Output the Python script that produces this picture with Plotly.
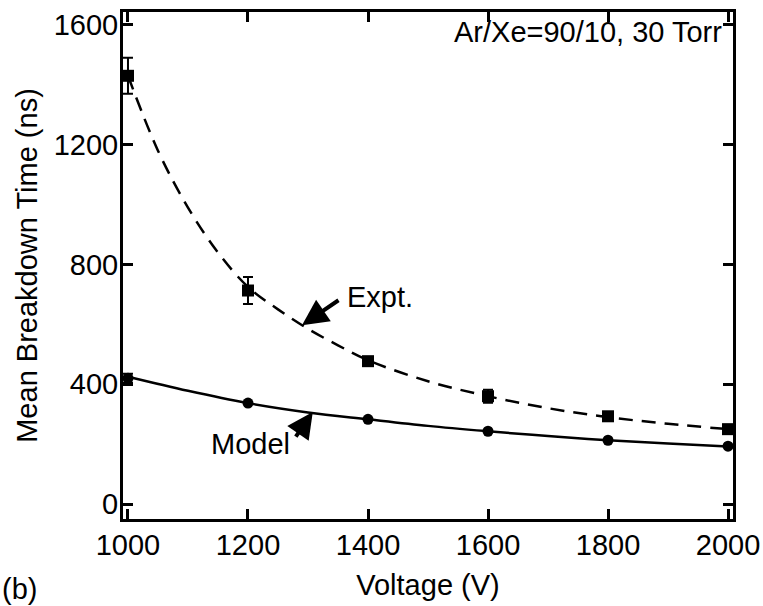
import plotly.graph_objects as go

# Measured points
voltage = [1000, 1200, 1400, 1600, 1800, 2000]
expt_time = [1430, 713, 477, 360, 293, 250]
expt_err = [60, 45, 12, 22, 8, 10]
model_time = [420, 337, 283, 243, 213, 193]
model_err = [15, 0, 0, 0, 0, 0]

# Fit curves
fit_v = [1000, 1050, 1100, 1150, 1200, 1250, 1300, 1350, 1400, 1500, 1600, 1700, 1800, 1900, 2000]
expt_fit = [1430, 1180, 990, 840, 725, 650, 585, 530, 480, 410, 360, 320, 290, 268, 250]
model_fit_v = [1000, 1100, 1200, 1300, 1400, 1500, 1600, 1700, 1800, 1900, 2000]
model_fit = [425, 378, 337, 306, 283, 261, 243, 227, 213, 202, 192]

x_ticks = [1000, 1200, 1400, 1600, 1800, 2000]
y_ticks = [0, 400, 800, 1200, 1600]

FONT = "Liberation Sans, Arial, sans-serif"
FS = 29

fig = go.Figure()
fig.add_trace(go.Scatter(x=fit_v, y=expt_fit, mode="lines",
                         line=dict(color="black", width=2.5, dash="14px,9px", shape="spline"),
                         showlegend=False))
fig.add_trace(go.Scatter(x=model_fit_v, y=model_fit, mode="lines",
                         line=dict(color="black", width=2.5, shape="spline"),
                         showlegend=False))
fig.add_trace(go.Scatter(x=voltage, y=expt_time, mode="markers",
                         marker=dict(symbol="square", size=12, color="black"),
                         error_y=dict(type="data", array=expt_err, color="black", thickness=2, width=5),
                         showlegend=False))
fig.add_trace(go.Scatter(x=voltage, y=model_time, mode="markers",
                         marker=dict(symbol="circle", size=11, color="black"),
                         error_y=dict(type="data", array=model_err, color="black", thickness=2, width=5),
                         showlegend=False))

axis_common = dict(showline=True, linecolor="black", linewidth=3, mirror="allticks",
                   ticks="inside", ticklen=10, tickwidth=3, tickcolor="black",
                   showgrid=False, zeroline=False, automargin=False,
                   tickfont=dict(family=FONT, size=FS, color="black"))

fig.update_xaxes(range=[991.7, 2008.3], tickvals=x_ticks, ticklabelstandoff=-2,
                 title=dict(text="Voltage (V)", font=dict(family=FONT, size=FS, color="black"), standoff=15),
                 **axis_common)
fig.update_yaxes(range=[-50, 1643], tickvals=y_ticks, ticklabelstandoff=-4,
                 title=dict(text="Mean Breakdown Time (ns)", font=dict(family=FONT, size=FS, color="black"), standoff=8),
                 **axis_common)

fig.add_annotation(x=0.985, y=0.997, xref="paper", yref="paper", xanchor="right", yanchor="top",
                   text="Ar/Xe=90/10, 30 Torr", showarrow=False,
                   font=dict(family=FONT, size=FS, color="black"))
fig.add_annotation(x=1290, y=597, xref="x", yref="y", text="", showarrow=True,
                   arrowhead=2, arrowsize=1.3, arrowwidth=4, arrowcolor="black",
                   ax=38, ay=-26)
fig.add_annotation(x=1362, y=690, xref="x", yref="y", xanchor="left", yanchor="middle",
                   text="Expt.", showarrow=False,
                   font=dict(family=FONT, size=FS, color="black"))
fig.add_annotation(x=1308, y=307, xref="x", yref="y", text="", showarrow=True,
                   arrowhead=2, arrowsize=1.3, arrowwidth=4, arrowcolor="black",
                   ax=-18, ay=26)
fig.add_annotation(x=1273, y=200, xref="x", yref="y", xanchor="right", yanchor="middle",
                   text="Model", showarrow=False,
                   font=dict(family=FONT, size=FS, color="black"))
fig.add_annotation(x=-123 / 610, y=-70 / 507, xref="paper", yref="paper", xanchor="left", yanchor="middle",
                   text="(b)", showarrow=False,
                   font=dict(family=FONT, size=FS, color="black"))

fig.update_layout(width=763, height=606, margin=dict(l=123, r=30, t=12, b=87),
                  plot_bgcolor="white", paper_bgcolor="white")

fig.write_html("out.html")
